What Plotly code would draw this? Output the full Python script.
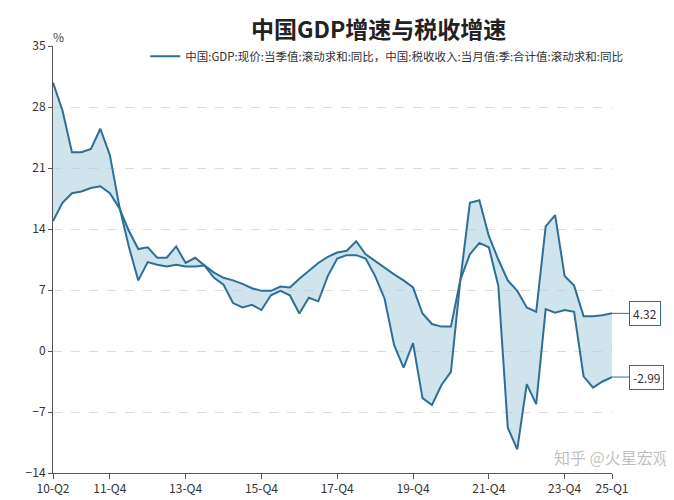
import plotly.graph_objects as go

# quarterly, 2010-Q2 .. 2025-Q1 (60 points)
quarters = []
for yr in range(10, 26):
    for q in range(1, 5):
        if (yr == 10 and q < 2) or (yr == 25 and q > 1):
            continue
        quarters.append(f"{yr}-Q{q}")

tick_labels = ["10-Q2", "11-Q4", "13-Q4", "15-Q4", "17-Q4", "19-Q4", "21-Q4", "23-Q4", "25-Q1"]

# the two traced lines, as they run across the picture
line_a = [30.8, 27.6, 22.8, 22.8, 23.2, 25.5, 22.5, 16.6, 12.0, 8.1,
          10.2, 9.9, 9.7, 9.9, 9.7, 9.7, 9.8, 8.4, 7.6, 5.5,
          5.0, 5.3, 4.7, 6.4, 6.9, 6.4, 4.3, 6.1, 5.7, 8.6,
          10.6, 11.0, 11.0, 10.6, 8.6, 6.0, 0.7, -1.9, 0.9, -5.4,
          -6.2, -3.9, -2.4, 8.2, 17.0, 17.3, 13.2, 10.5, 8.1, 6.9,
          5.0, 4.5, 14.3, 15.6, 8.6, 7.5, 4.0, 4.0, 4.1, 4.32]
line_b = [14.9, 17.0, 18.1, 18.3, 18.7, 18.9, 18.1, 16.4, 13.8, 11.7,
          11.9, 10.7, 10.7, 12.0, 10.1, 10.7, 9.8, 9.0, 8.4, 8.1,
          7.7, 7.2, 6.9, 6.9, 7.4, 7.3, 8.3, 9.2, 10.1, 10.8,
          11.3, 11.5, 12.6, 11.1, 10.3, 9.6, 8.8, 8.1, 7.3, 4.3,
          3.1, 2.8, 2.8, 8.2, 11.1, 12.4, 11.9, 7.5, -8.8, -11.3,
          -3.8, -6.1, 4.8, 4.4, 4.7, 4.5, -2.9, -4.2, -3.5, -2.99]

legend_name = "中国:GDP:现价:当季值:滚动求和:同比，中国:税收收入:当月值:季:合计值:滚动求和:同比"
line_color = "#2e6f96"
font = "Microsoft YaHei, Noto Sans CJK SC, sans-serif"

fig = go.Figure()
fig.add_trace(go.Scatter(x=quarters, y=line_a, mode="lines", name=legend_name,
                         line=dict(color=line_color, width=2)))
fig.add_trace(go.Scatter(x=quarters, y=line_b, mode="lines", showlegend=False,
                         line=dict(color=line_color, width=2),
                         fill="tonexty", fillcolor="rgba(170,205,222,0.55)"))

for val in (line_a[-1], line_b[-1]):
    fig.add_annotation(x=quarters[-1], y=val, text=f"{val:.2f}", showarrow=True,
                       arrowhead=0, arrowwidth=1, arrowcolor=line_color, ax=17, ay=0,
                       xanchor="left", bordercolor=line_color, borderwidth=1,
                       borderpad=3, bgcolor="white", font=dict(size=12, color="#333"))

fig.add_annotation(text="%", x=0, y=1, xref="paper", yref="paper", xshift=-2, yshift=20,
                   showarrow=False, font=dict(size=12, color="#444"))
fig.add_annotation(text="知乎 @火星宏观", x=1.105, y=0, xref="paper", yref="paper",
                   xanchor="right", yanchor="bottom", yshift=2, showarrow=False,
                   font=dict(size=16, color="rgba(150,150,150,0.6)"))

fig.update_layout(
    width=674, height=500,
    margin=dict(l=45, r=70, t=38, b=31),
    paper_bgcolor="white", plot_bgcolor="white",
    font=dict(family=font, color="#333"),
    title=dict(text="<b>中国GDP增速与税收增速</b>", x=0.55, xanchor="center", y=0.972,
               font=dict(size=23, color="#222")),
    showlegend=True,
    legend=dict(x=0.165, y=1.01, xanchor="left", yanchor="top", bgcolor="rgba(0,0,0,0)",
                font=dict(size=11.5, color="#333")),
    xaxis=dict(type="category", tickvals=tick_labels, ticktext=tick_labels,
               showgrid=False, showline=True, linecolor="#555", ticks="outside",
               ticklen=5, tickcolor="#555", tickfont=dict(size=12, color="#333"),
               range=[0, len(quarters) - 1]),
    yaxis=dict(range=[-14, 35], dtick=7, tick0=0, showgrid=True, gridcolor="#ddd",
               griddash="dash", zeroline=False, showline=True, linecolor="#555",
               ticks="outside", ticklen=4, tickcolor="#555",
               tickfont=dict(size=12, color="#333")),
)

fig.write_html("out.html")
